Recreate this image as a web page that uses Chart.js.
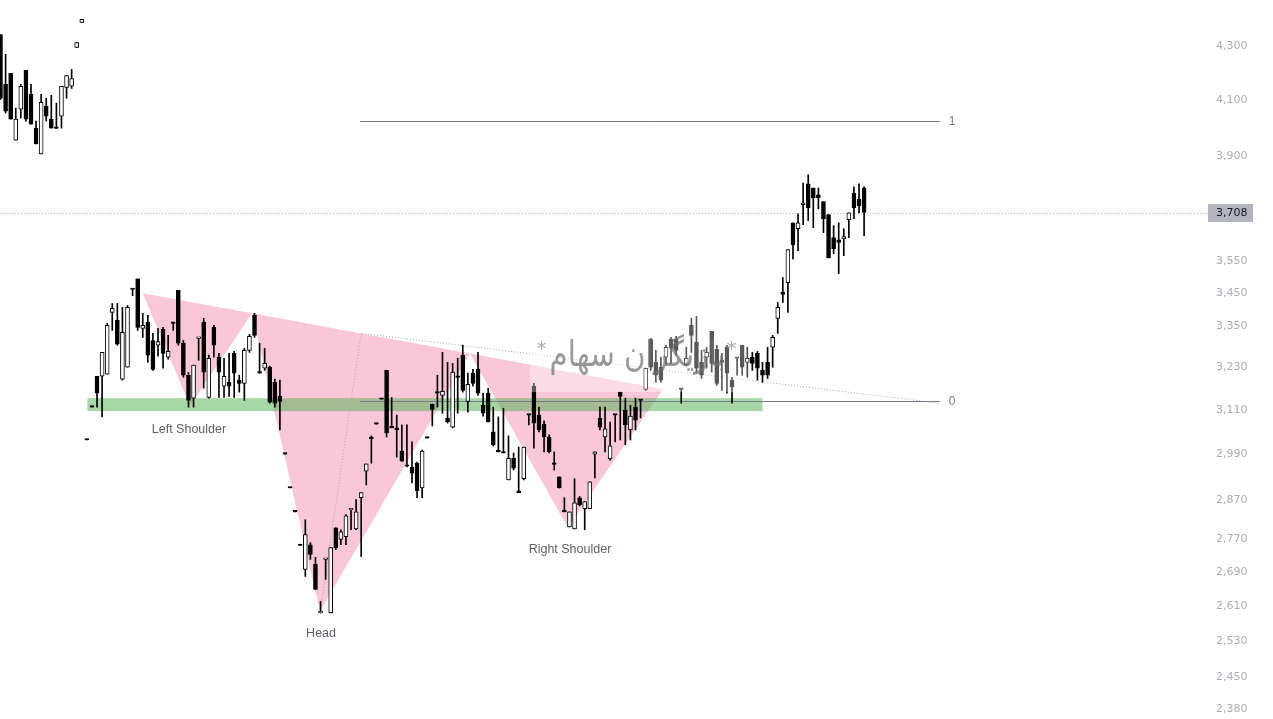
<!DOCTYPE html>
<html>
<head>
<meta charset="utf-8">
<title>Inverse head and shoulders</title>
<script src="https://cdn.jsdelivr.net/npm/chart.js@4.4.1/dist/chart.umd.min.js"></script>
<style>
  html, body { margin: 0; padding: 0; background: #fff; }
</style>
</head>
<body>
<canvas id="chart" width="1273" height="719"></canvas>
<script>
// candles, one per trading day, oldest first
const openPrices = [
  4346, 4157, 4198, 3955, 4066, 4209, 4120, 3998, 3907, 4077, 4030, 4001, 4041, 4146, 4150, 4296, 4393,
  3027, 3117, 3204, 3204, 3210, 3392, 3368, 3196, 3230, 3462, 3495, 3344, 3362, 3308, 3294, 3341, 3259,
  3359, 3459, 3300, 3207, 3142, 3314, 3362, 3144, 3347, 3259, 3176, 3187, 3270, 3193, 3184, 3279, 3383,
  3216, 3227, 3230, 3187, 3147, 2989, 2900, 2839, 2755, 2697, 2757, 2709, 2594, 2721, 2594, 2799, 2770,
  2777, 2844, 2796, 2875, 2944, 3035, 3070, 3139, 3221, 3060, 3060, 2997, 2957, 2955, 2965, 2900, 3032,
  3125, 3156, 3150, 3087, 3062, 3201, 3265, 3133, 3213, 3224, 3122, 3156, 3049, 2995, 2992, 2921, 2978,
  2893, 2924, 3095, 3176, 3095, 3070, 3035, 2962, 2929, 2839, 2801, 2796, 2875, 2847, 2847, 2989, 3087,
  3035, 2976, 3095, 3159, 3109, 3054, 3117, 3136, 3167, 3311, 3244, 3230, 3259, 3311, 3311, 3167, 3236,
  3353, 3303, 3244, 3259, 3335, 3282, 3250, 3288, 3193, 3256, 3294, 3244, 3259, 3270, 3221, 3244, 3288,
  3374, 3453, 3483, 3674, 3655, 3734, 3804, 3790, 3767, 3744, 3701, 3626, 3619, 3622, 3684, 3773, 3753, 3790
];
const highPrices = [
  4346, 4270, 4198, 4070, 4157, 4209, 4157, 4023, 4120, 4106, 4117, 4088, 4150, 4190, 4213, 4315, 4405,
  3027, 3117, 3204, 3273, 3359, 3419, 3419, 3407, 3413, 3462, 3495, 3389, 3383, 3329, 3344, 3347, 3323,
  3359, 3459, 3308, 3215, 3236, 3317, 3374, 3265, 3353, 3270, 3256, 3270, 3276, 3207, 3285, 3326, 3389,
  3300, 3285, 3233, 3196, 3193, 2989, 2900, 2839, 2755, 2819, 2762, 2726, 2621, 2723, 2750, 2799, 2794,
  2832, 2847, 2870, 2888, 2963, 3038, 3070, 3139, 3221, 3144, 3095, 3068, 3068, 3022, 2968, 3000, 3032,
  3125, 3207, 3273, 3244, 3241, 3256, 3294, 3213, 3224, 3273, 3156, 3170, 3117, 3090, 3114, 3038, 2992,
  3008, 3008, 3095, 3184, 3117, 3079, 3041, 2995, 2929, 2875, 2839, 2924, 2878, 2865, 2916, 2995, 3117,
  3117, 3076, 3095, 3159, 3142, 3122, 3142, 3136, 3227, 3314, 3279, 3259, 3294, 3317, 3320, 3167, 3288,
  3374, 3380, 3279, 3288, 3335, 3294, 3270, 3294, 3201, 3256, 3294, 3288, 3273, 3276, 3244, 3288, 3323,
  3422, 3499, 3587, 3674, 3704, 3807, 3835, 3790, 3790, 3744, 3701, 3665, 3674, 3655, 3707, 3794, 3804, 3794
];
const lowPrices = [
  4102, 4052, 4030, 3955, 4034, 4023, 4012, 3942, 3907, 4023, 3998, 3997, 3998, 4106, 4142, 4296, 4393,
  3027, 3117, 3117, 3090, 3210, 3338, 3294, 3193, 3230, 3443, 3338, 3317, 3244, 3221, 3262, 3227, 3253,
  3338, 3294, 3201, 3117, 3117, 3250, 3170, 3142, 3259, 3144, 3144, 3147, 3144, 3159, 3136, 3273, 3317,
  3213, 3221, 3128, 3117, 3054, 2989, 2900, 2839, 2755, 2680, 2721, 2649, 2594, 2673, 2594, 2745, 2757,
  2757, 2794, 2794, 2728, 2908, 2965, 3070, 3139, 3035, 3060, 2981, 2970, 2955, 2913, 2875, 2875, 3032,
  3065, 3117, 3100, 3073, 3060, 3100, 3159, 3103, 3176, 3150, 3092, 3076, 3011, 2995, 2992, 2921, 2947,
  2888, 2921, 3068, 3005, 3049, 2995, 2992, 2947, 2900, 2839, 2801, 2796, 2854, 2794, 2847, 2926, 3054,
  2995, 2973, 3022, 3027, 3014, 3027, 3054, 3087, 3164, 3221, 3187, 3187, 3236, 3241, 3265, 3128, 3233,
  3273, 3216, 3198, 3227, 3216, 3178, 3164, 3156, 3128, 3207, 3207, 3201, 3221, 3193, 3187, 3198, 3230,
  3329, 3422, 3392, 3558, 3584, 3668, 3681, 3658, 3720, 3642, 3561, 3574, 3511, 3568, 3626, 3688, 3707, 3632
];
const closePrices = [
  4106, 4059, 4030, 4030, 4150, 4030, 4012, 3942, 4091, 4041, 3998, 3997, 4150, 4190, 4179, 4315, 4405,
  3027, 3117, 3156, 3273, 3353, 3404, 3297, 3332, 3407, 3462, 3347, 3353, 3265, 3224, 3305, 3270, 3276,
  3359, 3300, 3207, 3136, 3236, 3317, 3216, 3256, 3294, 3216, 3204, 3176, 3213, 3184, 3279, 3320, 3323,
  3213, 3241, 3131, 3128, 3133, 2989, 2900, 2839, 2755, 2782, 2733, 2649, 2598, 2723, 2750, 2750, 2789,
  2829, 2847, 2839, 2888, 2963, 3030, 3070, 3139, 3046, 3060, 3054, 2970, 2957, 2939, 2893, 2997, 3032,
  3111, 3156, 3161, 3076, 3216, 3201, 3164, 3181, 3184, 3156, 3100, 3076, 3014, 2995, 2992, 2978, 2952,
  2888, 3008, 3095, 3073, 3054, 3035, 2995, 2962, 2900, 2839, 2839, 2862, 2857, 2865, 2916, 2995, 3062,
  3057, 3011, 3095, 3147, 3068, 3092, 3081, 3136, 3227, 3230, 3207, 3193, 3288, 3285, 3279, 3167, 3256,
  3323, 3227, 3207, 3273, 3241, 3184, 3244, 3213, 3173, 3256, 3230, 3256, 3241, 3227, 3207, 3207, 3317,
  3407, 3447, 3587, 3603, 3674, 3740, 3724, 3757, 3757, 3688, 3561, 3590, 3610, 3629, 3707, 3724, 3730, 3708
];
const priceTicks = [4300, 4100, 3900, 3550, 3450, 3350, 3230, 3110, 2990, 2870, 2770, 2690, 2610, 2530, 2450, 2380];
const lastPrice = 3708;

// drawing points as [candle index, price]
const patternPoints = [[28, 3450], [37.3, 3120], [49.5, 3389], [62.9, 2598], [92.4, 3270], [111.7, 2799], [130.4, 3167]];
const patternLabels = [["Left Shoulder", 37.1, 3055], ["Head", 63.1, 2548], ["Right Shoulder", 112.1, 2744]];
const zoneIndex = [17.1, 150];
const zonePrice = [3142, 3106];
const fibLevels = [["1", 4023], ["0", 3133]];
const fibIndex = [70.8, 184.9];
const fibLabelIndex = 187.3;
const trendPoints = [[62.9, 2598], [71, 3329], [184.9, 3128]];
const watermarkBox = [104.2, 147.1, 3428, 3159];
const watermarkAt = [125.4, 3262];

const indices = openPrices.map((_, i) => i);

const drawings = {
  id: "drawings",
  beforeDatasetsDraw(chart) {
    const { ctx, chartArea, scales: { x, y } } = chart;
    const px = p => [x.getPixelForValue(p[0]), y.getPixelForValue(p[1])];
    ctx.save();

    // head and shoulders triangles
    ctx.fillStyle = "rgba(233, 30, 99, 0.25)";
    [[0, 1, 2], [2, 3, 4], [4, 5, 6]].forEach(tri => {
      ctx.beginPath();
      tri.forEach((k, n) => {
        const [a, b] = px(patternPoints[k]);
        n ? ctx.lineTo(a, b) : ctx.moveTo(a, b);
      });
      ctx.closePath();
      ctx.fill();
    });

    // support zone
    const zx1 = x.getPixelForValue(zoneIndex[0]);
    const zx2 = x.getPixelForValue(zoneIndex[1]);
    const zy1 = y.getPixelForValue(zonePrice[0]);
    const zy2 = y.getPixelForValue(zonePrice[1]);
    ctx.fillStyle = "rgba(76, 175, 80, 0.5)";
    ctx.fillRect(zx1, zy1, zx2 - zx1, zy2 - zy1);

    // dotted trend lines
    ctx.strokeStyle = "#a3a8b4";
    ctx.lineWidth = 1;
    ctx.setLineDash([1, 2]);
    ctx.beginPath();
    trendPoints.forEach((p, n) => {
      const [a, b] = px(p);
      n ? ctx.lineTo(a, b) : ctx.moveTo(a, b);
    });
    ctx.stroke();

    // last price line
    const ly = Math.round(y.getPixelForValue(lastPrice)) + 0.5;
    ctx.strokeStyle = "#b2b5be";
    ctx.beginPath();
    ctx.moveTo(chartArea.left, ly);
    ctx.lineTo(chartArea.right, ly);
    ctx.stroke();
    ctx.setLineDash([]);

    // fib levels
    ctx.strokeStyle = "#787b86";
    ctx.fillStyle = "#787b86";
    ctx.font = "12px 'Liberation Sans'";
    ctx.textAlign = "center";
    ctx.textBaseline = "middle";
    fibLevels.forEach(([name, price]) => {
      const fy = Math.round(y.getPixelForValue(price)) + 0.5;
      ctx.beginPath();
      ctx.moveTo(x.getPixelForValue(fibIndex[0]), fy);
      ctx.lineTo(x.getPixelForValue(fibIndex[1]), fy);
      ctx.stroke();
      ctx.fillText(name, x.getPixelForValue(fibLabelIndex), fy);
    });
    ctx.restore();
  },
  afterDatasetsDraw(chart) {
    const { ctx, scales: { x, y } } = chart;
    ctx.save();

    // watermark backdrop
    const wx1 = x.getPixelForValue(watermarkBox[0]);
    const wx2 = x.getPixelForValue(watermarkBox[1]);
    const wy1 = y.getPixelForValue(watermarkBox[2]);
    const wy2 = y.getPixelForValue(watermarkBox[3]);
    ctx.fillStyle = "rgba(255, 255, 255, 0.35)";
    ctx.fillRect(wx1, wy1, wx2 - wx1, wy2 - wy1);

    const cx = x.getPixelForValue(watermarkAt[0]);
    const cy = y.getPixelForValue(watermarkAt[1]);
    ctx.fillStyle = "rgba(110, 110, 110, 0.7)";
    ctx.textAlign = "center";
    ctx.textBaseline = "middle";
    ctx.font = "36px 'DejaVu Sans'";
    ctx.fillText("بازیگران سهام", cx, cy, 176);
    ctx.fillStyle = "rgba(150, 150, 150, 0.8)";
    ctx.font = "20px 'DejaVu Sans'";
    ctx.fillText("*", cx - 96, cy - 6);
    ctx.fillText("*", cx + 94, cy - 6);

    // pattern labels
    ctx.fillStyle = "#5d606b";
    ctx.font = "12.5px 'Liberation Sans'";
    patternLabels.forEach(([text, i, price]) => {
      ctx.fillText(text, x.getPixelForValue(i), y.getPixelForValue(price));
    });
    ctx.restore();
  },
  afterDraw(chart) {
    const { ctx, chartArea, scales: { y } } = chart;
    const ly = Math.round(y.getPixelForValue(lastPrice));
    ctx.save();
    ctx.fillStyle = "#b2b5be";
    ctx.fillRect(chartArea.right + 1, ly - 9, 45, 18);
    ctx.fillStyle = "#131722";
    ctx.font = "11px 'DejaVu Sans'";
    ctx.textBaseline = "middle";
    ctx.fillText(lastPrice.toLocaleString("en-US"), chartArea.right + 9, ly + 0.5);
    ctx.restore();
  }
};

const ctx = document.getElementById("chart").getContext("2d");

new Chart(ctx, {
  type: "bar",
  data: {
    datasets: [
      {
        label: "wick",
        data: indices.map(i => ({ x: i, y: [lowPrices[i], highPrices[i]] })),
        backgroundColor: "#000",
        barThickness: 1,
        minBarLength: 1,
        grouped: false,
        order: 2
      },
      {
        label: "body",
        data: indices.map(i => ({ x: i, y: [openPrices[i], closePrices[i]] })),
        backgroundColor: indices.map(i => (closePrices[i] > openPrices[i] ? "#fff" : "#000")),
        borderColor: "#000",
        borderWidth: 1,
        borderSkipped: false,
        barThickness: 4,
        minBarLength: 1.5,
        grouped: false,
        order: 1
      }
    ]
  },
  options: {
    responsive: false,
    animation: false,
    devicePixelRatio: 1,
    layout: { padding: 0 },
    plugins: {
      legend: { display: false },
      tooltip: { enabled: false }
    },
    scales: {
      x: { type: "linear", min: -0.1, max: 237.5, offset: false, display: false },
      y: {
        type: "logarithmic",
        position: "right",
        min: 2360,
        max: 4482,
        bounds: "data",
        grid: { display: false, drawTicks: false },
        border: { display: false },
        afterBuildTicks: axis => {
          axis.ticks = priceTicks.map(v => ({ value: v }));
        },
        afterFit: axis => {
          axis.width = 66;
          axis.paddingTop = 0;
          axis.paddingBottom = 0;
        },
        ticks: {
          color: "#aaadb6",
          font: { family: "DejaVu Sans", size: 11 },
          padding: 9,
          autoSkip: false,
          callback: v => v.toLocaleString("en-US")
        }
      }
    }
  },
  plugins: [drawings]
});
</script>
</body>
</html>
